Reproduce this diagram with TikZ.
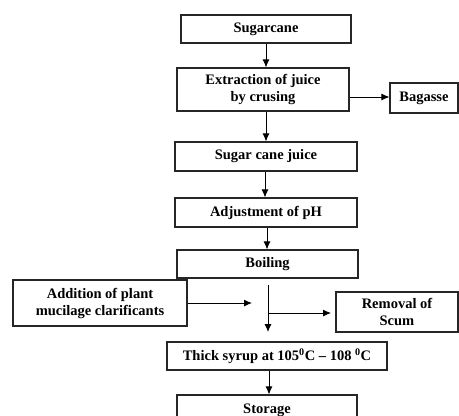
\documentclass[tikz,border=0pt]{standalone}
\usepackage{fontspec}
\setmainfont{Liberation Serif}
\usetikzlibrary{arrows.meta}
\begin{document}
\begin{tikzpicture}[x=1pt,y=-1pt,
  box/.style={draw=black!85,line width=1.1pt,inner sep=0pt,align=center,
    font=\fontsize{14.5}{17}\selectfont\bfseries},
  arr/.style={draw=black,line width=0.9pt,-{Latex[length=8pt,width=7pt]}},
  ln/.style={draw=black,line width=0.9pt}]
\useasboundingbox (0,0) rectangle (459,416);
\clip (0,0) rectangle (459,416);
\node[box,minimum width=170pt,minimum height=28pt] (sug) at (266,29) {Sugarcane};
\node[box,minimum width=172pt,minimum height=43pt] (ext) at (263,89.5) {Extraction of juice\\by crusing};
\node[box,minimum width=68pt,minimum height=30pt] (bag) at (424,98) {Bagasse};
\node[box,minimum width=182pt,minimum height=29pt] (juice) at (266,156.5) {Sugar cane juice};
\node[box,minimum width=182pt,minimum height=29pt] (ph) at (266,212.5) {Adjustment of pH};
\node[box,minimum width=181pt,minimum height=28pt] (boil) at (267.5,264) {Boiling};
\node[box,minimum width=174pt,minimum height=46pt] (add) at (100,303) {Addition of plant\\mucilage clarificants};
\node[box,minimum width=122pt,minimum height=40pt] (rem) at (397,312) {Removal of\\Scum};
\node[box,minimum width=220pt,minimum height=28pt] (syr) at (277,356) {Thick syrup at 105\textsuperscript{0}C – 108 \textsuperscript{0}C};
\node[box,minimum width=180pt,minimum height=30pt] (sto) at (267,410) {Storage};
\coordinate (v1) at (268,285);
\coordinate (v2) at (268,332);
\coordinate (b1) at (268,313);
\coordinate (a1) at (252,303);
\coordinate (r1) at (331,313);
\draw[arr] (sug.south -| 266,0) -- (ext.north -| 266,0);
\draw[arr] (ext.east |- 0,97) -- (bag.west |- 0,97);
\draw[arr] (ext.south -| 266,0) -- (juice.north -| 266,0);
\draw[arr] (juice.south -| 265,0) -- (ph.north -| 265,0);
\draw[arr] (ph.south -| 267,0) -- (boil.north -| 267,0);
\draw[arr] (v1) -- (v2);
\draw[arr] (add.east |- a1) -- (a1);
\draw[arr] (b1) -- (r1);
\draw[arr] (syr.south -| 269,0) -- (sto.north -| 269,0);
\end{tikzpicture}
\end{document}
